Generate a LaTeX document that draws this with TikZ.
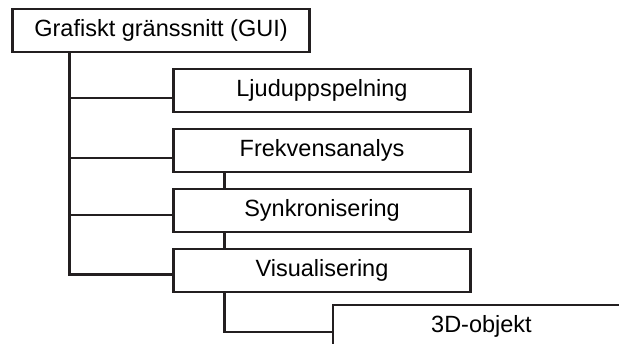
\documentclass[tikz,border=0pt]{standalone}
\usepackage{fontspec}
\setmainfont{Liberation Sans}
\usepackage{tikz}
\usetikzlibrary{shapes, positioning}
\definecolor{inkgray}{RGB}{35,31,32}
\tikzstyle{block} = [rectangle, draw=inkgray, line width=2.5pt, fill=white, minimum width=297pt,
    minimum height=43pt, inner sep=0pt, text centered, font=\fontsize{23.5}{28}\selectfont]
\tikzstyle{line} = [draw=inkgray, line width=2.5pt]

\begin{document}
\begin{tikzpicture}[x=1pt, y=1pt, node distance = 60pt]
    \useasboundingbox (0,0) rectangle (619,344);
    \clip (0,0) rectangle (619,344);
    % Place nodes
    \node [block] (gui) at (161,313.5) {Grafiskt gränssnitt (GUI)};
    \node [block] (ljud) at (322,253.5) {Ljuduppspelning};
    \node [block, below of=ljud] (frek) {Frekvensanalys};
    \node [block, below of=frek] (synk) {Synkronisering};
    \node [block, below of=synk] (vis) {Visualisering};
    \node [block] (obj) at (481.5,17.5) {3D-objekt};
    \coordinate (trunk) at ([xshift=58pt]gui.south west);

    % Draw edges
    \path [line] (trunk) |- ([yshift=-4pt]vis.west);
    \path [line] ([yshift=-7.5pt]ljud.west) -| (trunk);
    \path [line] ([yshift=-7.5pt]frek.west) -| (trunk);
    \path [line] ([yshift=-4.5pt]synk.west) -| (trunk);
    \path [line] ([xshift=52pt]frek.south west) -- ([xshift=52pt]synk.north west);
    \path [line] ([xshift=52pt]synk.south west) -- ([xshift=52pt]vis.north west);
    \path [line] ([xshift=52pt]vis.south west) |- ([yshift=-5.5pt]obj.west);
\end{tikzpicture}
\end{document}
